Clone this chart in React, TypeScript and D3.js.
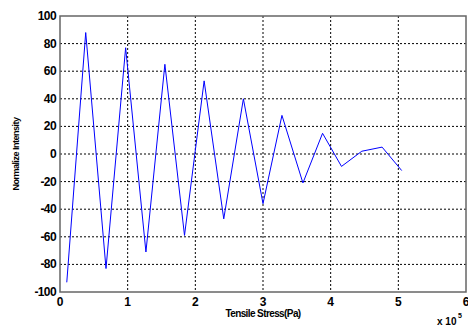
import React from "react";
import * as d3 from "d3";

const stress = [0.1, 0.38, 0.68, 0.97, 1.27, 1.55, 1.84, 2.13, 2.42, 2.71, 3.0, 3.28, 3.59, 3.88, 4.16, 4.46, 4.76, 5.05];
const intensity = [-93, 88, -83, 77, -71, 65, -59, 53, -47, 40, -36, 28, -21, 15, -9, 2, 5, -12];
const xTicks = [0, 1, 2, 3, 4, 5, 6];
const yTicks = [-100, -80, -60, -40, -20, 0, 20, 40, 60, 80, 100];

const W = 468, H = 327;
const L = 60, R = 466, T = 16, B = 292;

export default function App() {
  const x = d3.scaleLinear().domain([0, 6]).range([L, R]);
  const y = d3.scaleLinear().domain([-100, 100]).range([B, T]);
  const line = d3.line<number>().x((_, i) => x(stress[i])).y((d) => y(d));
  const font = "'Liberation Sans', Arial, sans-serif";
  return (
    <svg width={W} height={H} style={{ position: "absolute", left: 0, top: 0, background: "#fff" }}>
      <rect x={0} y={0} width={W} height={H} fill="#fff" />
      {xTicks.slice(1, -1).map((t) => (
        <line key={"gx" + t} x1={x(t)} x2={x(t)} y1={T} y2={B} stroke="#000" strokeWidth={1} strokeDasharray="2,2" />
      ))}
      {yTicks.slice(1, -1).map((t) => (
        <line key={"gy" + t} x1={L} x2={R} y1={y(t)} y2={y(t)} stroke="#000" strokeWidth={1} strokeDasharray="2,2" />
      ))}
      <rect x={L} y={T} width={R - L} height={B - T} fill="none" stroke="#666" strokeWidth={1.5} />
      <path d={line(intensity) || ""} fill="none" stroke="#0000ff" strokeWidth={1} />
      {xTicks.map((t) => (
        <text key={"tx" + t} x={x(t)} y={306} textAnchor="middle" fontFamily={font} fontWeight="bold" fontSize={12}>
          {t}
        </text>
      ))}
      {yTicks.map((t) => (
        <text key={"ty" + t} x={56} y={y(t) + 4} textAnchor="end" fontFamily={font} fontWeight="bold" fontSize={12} letterSpacing={-0.6}>
          {t}
        </text>
      ))}
      <text x={(L + R) / 2} y={317} textAnchor="middle" fontFamily={font} fontWeight="bold" fontSize={10} letterSpacing={-0.6}>
        Tensile Stress(Pa)
      </text>
      <text transform={`translate(19,${(T + B) / 2}) rotate(-90)`} textAnchor="middle" fontFamily={font} fontWeight="bold" fontSize={9} letterSpacing={-0.5}>
        Normalize Intensity
      </text>
      <text x={437} y={325} fontFamily={font} fontWeight="bold" fontSize={10}>
        x 10
      </text>
      <text x={458} y={318} fontFamily={font} fontWeight="bold" fontSize={7}>
        5
      </text>
    </svg>
  );
}
